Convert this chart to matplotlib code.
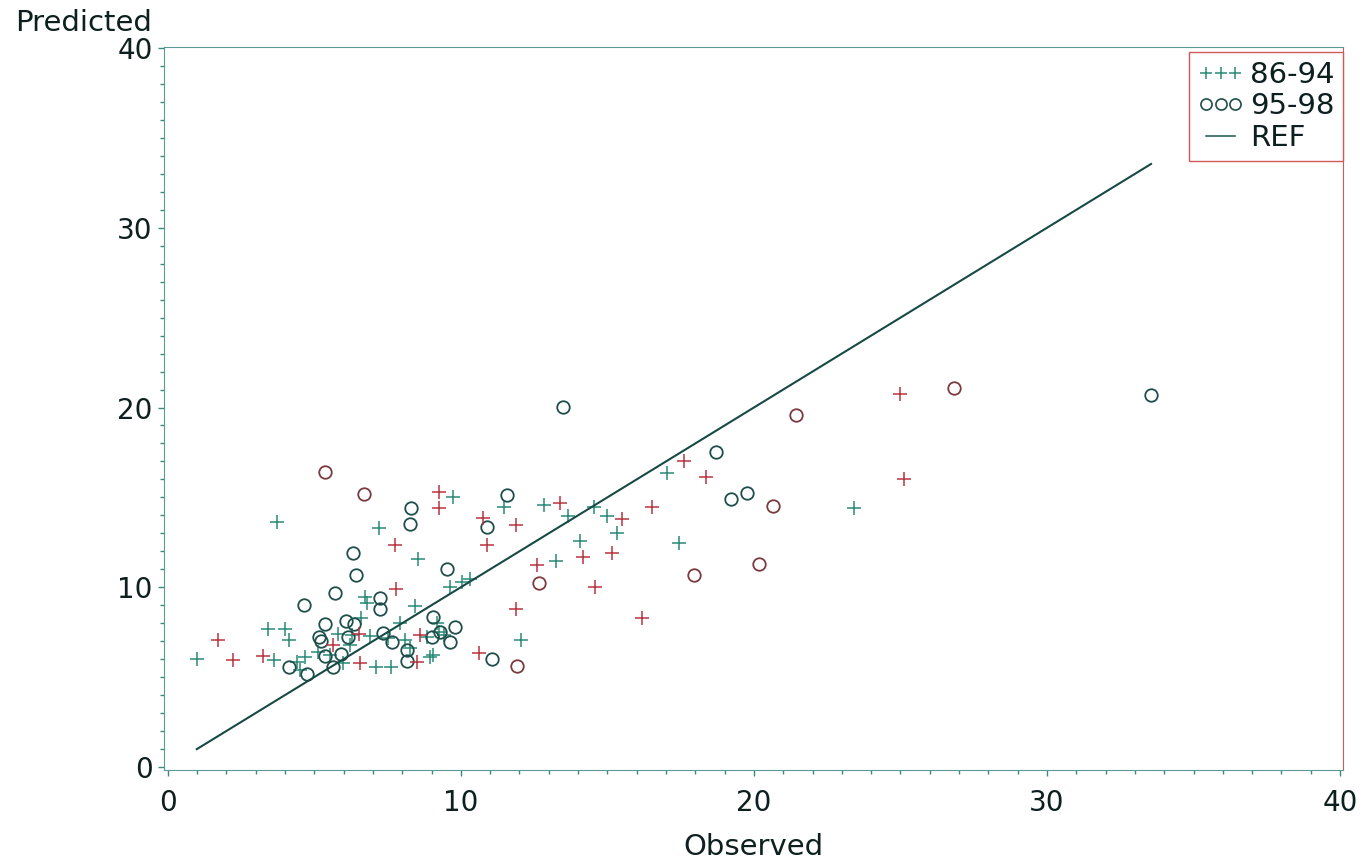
import numpy as np
import matplotlib
matplotlib.use("Agg")
import matplotlib.pyplot as plt
from matplotlib.lines import Line2D
from matplotlib.ticker import MultipleLocator

# 86-94 : observed / predicted, colour flag per point ('g' teal, 'r' red)
obs_8694 = [0.99, 1.73, 2.22, 3.24, 3.41, 3.63, 4.00, 4.15, 4.40, 4.69, 4.52, 5.14,
            5.65, 5.82, 5.99, 6.22, 6.28, 6.51, 6.56, 6.59, 6.73, 6.79, 7.79, 8.42,
            7.93, 9.18, 9.63, 10.03, 6.90, 7.53, 8.10, 8.61, 8.84, 9.24, 9.41, 8.27,
            5.53, 7.11, 7.61, 8.50, 8.95, 9.04, 3.72, 9.24, 9.73, 9.27, 7.21, 7.76,
            8.53, 10.75, 10.89, 10.32, 11.48, 11.88, 12.84, 13.37, 13.64, 14.55, 15.00, 15.49,
            17.03, 17.63, 18.36, 16.52, 15.32, 14.05, 14.18, 15.15, 13.25, 12.61, 14.58, 17.46,
            16.18, 11.89, 12.05, 10.63, 24.99, 25.11, 23.43]
pred_8694 = [6.01, 7.07, 5.95, 6.19, 7.66, 5.95, 7.68, 7.07, 5.86, 6.10, 5.40, 6.41,
             6.79, 7.38, 5.77, 6.79, 7.34, 7.38, 5.77, 8.27, 9.47, 9.11, 9.90, 8.97,
             8.03, 8.03, 10.03, 10.31, 7.29, 7.16, 7.07, 7.34, 7.25, 7.53, 7.34, 6.60,
             6.23, 5.58, 5.58, 5.86, 6.14, 6.23, 13.65, 15.32, 15.00, 14.43, 13.28, 12.35,
             11.57, 13.84, 12.35, 10.46, 14.48, 13.46, 14.58, 14.67, 13.98, 14.45, 13.96, 13.80,
             16.37, 17.02, 16.15, 14.48, 13.00, 12.59, 11.70, 11.89, 11.48, 11.24, 10.00, 12.45,
             8.31, 8.79, 7.07, 6.33, 20.73, 16.02, 14.39]
col_8694 = ['g', 'r', 'r', 'r', 'g', 'g', 'g', 'g', 'g', 'g', 'g', 'g',
            'r', 'g', 'g', 'g', 'g', 'r', 'r', 'g', 'g', 'g', 'r', 'g',
            'g', 'g', 'g', 'g', 'g', 'g', 'g', 'r', 'g', 'g', 'g', 'g',
            'g', 'g', 'g', 'r', 'g', 'g', 'g', 'r', 'g', 'r', 'g', 'r',
            'g', 'r', 'r', 'g', 'g', 'r', 'g', 'r', 'g', 'g', 'g', 'r',
            'g', 'r', 'r', 'r', 'g', 'g', 'r', 'r', 'g', 'r', 'r', 'g',
            'r', 'r', 'g', 'r', 'r', 'r', 'g']

# 95-98
obs_9598 = [6.43, 5.69, 4.66, 5.37, 6.09, 6.37, 5.17, 5.23, 6.16, 5.37, 5.90, 5.65,
            4.14, 4.74, 7.25, 7.25, 7.34, 7.65, 9.06, 9.29, 9.81, 9.63, 9.01, 8.16,
            8.16, 5.35, 6.71, 8.29, 8.25, 10.89, 6.31, 9.54, 13.47, 11.59, 12.68, 17.97,
            11.06, 11.93, 21.43, 18.71, 19.23, 19.78, 20.64, 20.16, 26.84, 33.55]
pred_9598 = [10.68, 9.66, 9.01, 7.96, 8.14, 7.96, 7.22, 7.03, 7.22, 6.19, 6.29, 5.58,
             5.58, 5.17, 9.39, 8.77, 7.47, 6.97, 8.36, 7.53, 7.81, 6.97, 7.22, 6.51,
             5.90, 16.40, 15.19, 14.39, 13.52, 13.34, 11.89, 11.02, 20.01, 15.13, 10.22, 10.68,
             5.99, 5.62, 19.58, 17.54, 14.89, 15.26, 14.54, 11.29, 21.10, 20.70]
col_9598 = ['g', 'g', 'g', 'g', 'g', 'g', 'g', 'g', 'g', 'g', 'g', 'g',
            'g', 'g', 'g', 'g', 'g', 'g', 'g', 'g', 'g', 'g', 'g', 'g',
            'g', 'r', 'r', 'g', 'g', 'g', 'g', 'g', 'g', 'g', 'r', 'r',
            'g', 'r', 'r', 'g', 'g', 'g', 'r', 'r', 'r', 'g']

labels = ['86-94', '95-98', 'REF']

teal = '#2a8a78'
red = '#b8333f'
dark = '#1f4f4a'
txt = '#0d1f1f'
plus_col = {'g': teal, 'r': red}
circ_col = {'g': dark, 'r': '#7a3a40'}

fig = plt.figure(figsize=(13.65, 8.65), dpi=100)
ax = fig.add_axes([0.1201, 0.1098, 0.8638, 0.8359])

x1, y1, c1 = np.array(obs_8694), np.array(pred_8694), np.array(col_8694)
x2, y2, c2 = np.array(obs_9598), np.array(pred_9598), np.array(col_9598)

for k in ['g', 'r']:
    m = c1 == k
    ax.plot(x1[m], y1[m], ls='none', marker='+', ms=9.5, mew=1.1, color=plus_col[k])
    m = c2 == k
    ax.plot(x2[m], y2[m], ls='none', marker='o', ms=9, mew=1.3, mfc='none',
            color=circ_col[k])

# reference line y = x over the observed range
allx = np.concatenate([x1, x2])
ax.plot([allx.min(), allx.max()], [allx.min(), allx.max()], color='#174a45', lw=1.5)

ax.set_xlim(-0.13, 40.1)
ax.set_ylim(-0.17, 40.06)
ax.xaxis.set_major_locator(MultipleLocator(10))
ax.yaxis.set_major_locator(MultipleLocator(10))
ax.xaxis.set_minor_locator(MultipleLocator(1))
ax.yaxis.set_minor_locator(MultipleLocator(1))
ax.tick_params(which='both', direction='out', color='#3a8a80', labelcolor=txt,
               labelsize=20, width=1.0)
ax.tick_params(which='major', length=4)
ax.tick_params(which='minor', length=3)
ax.tick_params(axis='x', pad=10)
ax.tick_params(axis='y', pad=4)

for s in ['left', 'bottom', 'top']:
    ax.spines[s].set_color('#5a9c95')
ax.spines['right'].set_color('#d05a5a')

ax.set_xlabel('Observed', fontsize=21, color=txt, labelpad=11)
fig.text(15 / 1365, 1 - 23 / 865, 'Predicted', fontsize=21, color=txt,
         ha='left', va='center')

handles = [Line2D([], [], ls='none', marker='+', ms=9, mew=1.1, color=teal),
           Line2D([], [], ls='none', marker='o', ms=8, mew=1.2, mfc='none', color=dark),
           Line2D([], [], color='#1d5550', lw=1.1)]
leg = ax.legend(handles, labels, loc='upper right', bbox_to_anchor=(1.0, 0.993),
                numpoints=3, fontsize=21, handlelength=1.6, handletextpad=0.2,
                labelspacing=0.12, borderpad=0.3, borderaxespad=0.0,
                fancybox=False, framealpha=1.0, edgecolor='#d05a5a')
for t in leg.get_texts():
    t.set_color(txt)

fig.savefig('out.png', dpi=100)
